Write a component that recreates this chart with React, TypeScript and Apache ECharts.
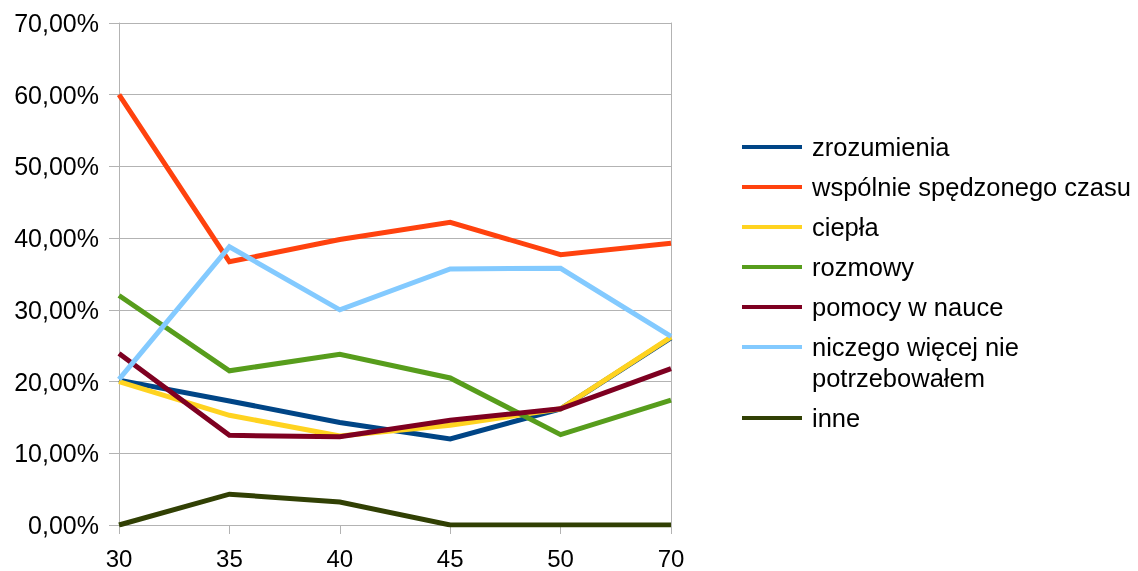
import React, { useEffect, useRef } from "react";
import * as echarts from "echarts";

const categories = ["30", "35", "40", "45", "50", "70"];

const zrozumienia = [20.2, 17.3, 14.3, 12.0, 16.2, 26.1];
const wspolnie = [60.0, 36.7, 39.8, 42.2, 37.7, 39.3];
const ciepla = [20.0, 15.3, 12.4, 13.9, 16.2, 26.2];
const rozmowy = [32.0, 21.5, 23.8, 20.5, 12.6, 17.4];
const pomocy = [23.9, 12.5, 12.3, 14.6, 16.2, 21.8];
const niczego = [20.3, 38.8, 30.0, 35.7, 35.8, 26.3];
const inne = [0, 4.3, 3.2, 0, 0, 0];

const seriesNames = [
  "zrozumienia",
  "wspólnie spędzonego czasu",
  "ciepła",
  "rozmowy",
  "pomocy w nauce",
  "niczego więcej nie",
  "inne",
];
const seriesData = [zrozumienia, wspolnie, ciepla, rozmowy, pomocy, niczego, inne];
const colors = ["#004586", "#ff420e", "#ffd320", "#579d1c", "#7e0021", "#83caff", "#314004"];

const FONT = "Liberation Sans";

export default function App() {
  const ref = useRef<HTMLDivElement>(null);
  useEffect(() => {
    if (!ref.current) return;
    const chart = echarts.init(ref.current, undefined, { renderer: "svg" });
    const axisGray = "#b3b3b3";
    const legendCommon = {
      orient: "vertical" as const,
      left: 742,
      padding: 0,
      itemGap: 10,
      itemWidth: 60,
      itemHeight: 4,
      icon: "rect",
      selectedMode: false,
      textStyle: {
        fontFamily: FONT,
        fontSize: 25.5,
        color: "#000",
        lineHeight: 30,
        padding: [0, 0, 0, 5],
      },
    };
    chart.setOption({
      animation: false,
      color: colors,
      textStyle: { fontFamily: FONT },
      grid: { left: 119, right: 467, top: 23, bottom: 46, containLabel: false },
      legend: [
        { ...legendCommon, top: 132, data: seriesNames.slice(0, 6) },
        { ...legendCommon, top: 403, data: seriesNames.slice(6) },
      ],
      graphic: [
        {
          type: "text",
          left: 812,
          top: 365,
          style: {
            text: "potrzebowałem",
            fontFamily: FONT,
            fontSize: 25.5,
            fill: "#000",
          },
        },
      ],
      xAxis: {
        type: "category",
        data: categories,
        boundaryGap: false,
        axisLine: { show: true, lineStyle: { color: axisGray, width: 1 } },
        axisTick: { show: true, length: 9, lineStyle: { color: axisGray } },
        axisLabel: { fontFamily: FONT, fontSize: 24, color: "#000", margin: 21 },
        splitLine: { show: false },
      },
      yAxis: [
        {
          type: "value",
          min: 0,
          max: 70,
          interval: 10,
          axisLine: { show: true, lineStyle: { color: axisGray, width: 1 } },
          axisTick: { show: true, length: 10, lineStyle: { color: axisGray } },
          axisLabel: {
            fontFamily: FONT,
            fontSize: 25,
            color: "#000",
            margin: 20,
            formatter: (v: number) => `${v},00%`,
          },
          splitLine: { show: true, lineStyle: { color: axisGray, width: 1 } },
        },
        {
          type: "value",
          position: "right",
          min: 0,
          max: 70,
          interval: 10,
          axisLine: { show: true, lineStyle: { color: axisGray, width: 1 } },
          axisTick: { show: false },
          axisLabel: { show: false },
          splitLine: { show: false },
        },
      ],
      series: seriesData.map((d, i) => ({
        name: seriesNames[i],
        type: "line",
        data: d,
        yAxisIndex: 0,
        symbol: "none",
        lineStyle: { width: 5, color: colors[i], join: "miter" },
        itemStyle: { color: colors[i] },
        z: 2 + i,
      })),
    });
    return () => chart.dispose();
  }, []);
  return (
    <div
      ref={ref}
      style={{ position: "fixed", left: 0, top: 0, width: 1138, height: 571 }}
    />
  );
}
